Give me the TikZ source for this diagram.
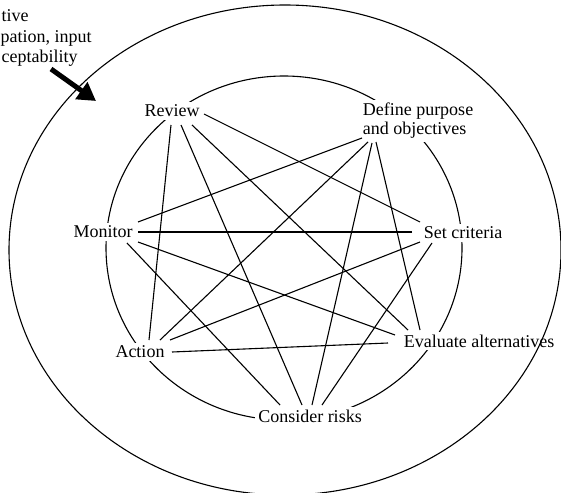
\documentclass[tikz,border=0pt]{standalone}
\usepackage{fontspec}
\setmainfont{Liberation Serif}
\usetikzlibrary{arrows.meta}
\begin{document}
\begin{tikzpicture}[x=1pt,y=-1pt, line width=1.1pt,
  lbl/.style={font=\fontsize{18}{19}\selectfont, fill=white, inner sep=3pt},
  link/.style={line width=1.1pt},
  note/.style={font=\fontsize{18}{21}\selectfont, inner sep=0pt, anchor=base west},
  bigarrow/.style={line width=5pt, -{Triangle[length=18pt,width=20pt]}}]
\useasboundingbox (0,0) rectangle (561,492);
\draw (284,248) ellipse [x radius=178pt, y radius=172pt];
\node[lbl] (rev) at (172,111) {Review};
\node[lbl, align=left] (def) at (418,121) {Define purpose\\and objectives};
\node[lbl] (mon) at (103,232) {Monitor};
\node[lbl] (set) at (463,233) {Set criteria};
\node[lbl] (act) at (140,352) {Action};
\node[lbl] (eva) at (479,341) {Evaluate alternatives};
\node[lbl] (con) at (310,416) {Consider risks};
\draw[link] ([shift={(32,3)}]rev.center) -- ([shift={(-43,-11)}]set.center);
\draw[link] ([shift={(20,14)}]rev.center) -- ([shift={(-71,-11)}]eva.center);
\draw[link] ([shift={(9,14)}]rev.center) -- ([shift={(-8,-11)}]con.center);
\draw[link] ([shift={(-1,14)}]rev.center) -- ([shift={(9,-12)}]act.center);
\draw[link] ([shift={(-42,21)}]def.center) -- ([shift={(-59,-11)}]eva.center);
\draw[link] ([shift={(-46,22)}]def.center) -- ([shift={(2,-11)}]con.center);
\draw[link] ([shift={(-50,21)}]def.center) -- ([shift={(20,-12)}]act.center);
\draw[link] ([shift={(-56,17)}]def.center) -- ([shift={(35,-10)}]mon.center);
\draw[link] ([shift={(-31,10)}]set.center) -- ([shift={(12,-11)}]con.center);
\draw[link] ([shift={(-43,9)}]set.center) -- ([shift={(30,-12)}]act.center);
\draw[link] ([shift={(-51,-1)}]set.center) -- ([shift={(35,0)}]mon.center);
\draw[link] ([shift={(-91,2)}]eva.center) -- ([shift={(32,0)}]act.center);
\draw[link] ([shift={(-84,-6)}]eva.center) -- ([shift={(35,10)}]mon.center);
\draw[link] ([shift={(-30,-11)}]con.center) -- ([shift={(24,11)}]mon.center);
\draw (285,250) ellipse [x radius=276pt, y radius=245pt];
\node[note] (n1) at (1,22) {tive};
\node[note] (n2) at (0,43) {pation, input};
\node[note] (n3) at (1,63) {ceptability};
\coordinate (a0) at (51,69);
\coordinate (a1) at (96,101);
\draw[bigarrow] (a0) -- (a1);
\end{tikzpicture}
\end{document}
